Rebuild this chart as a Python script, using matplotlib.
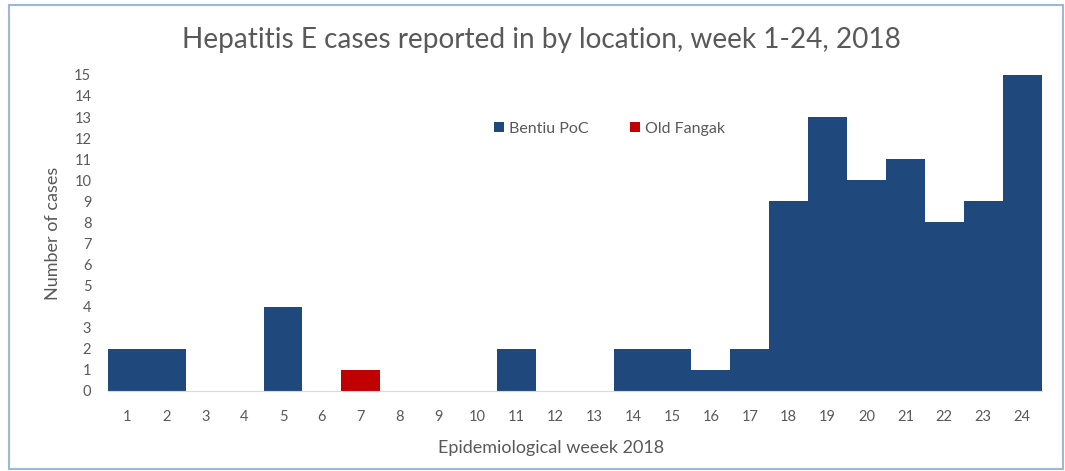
import matplotlib.pyplot as plt
from matplotlib.patches import Rectangle

plt.rcParams['font.family'] = ['Lato', 'DejaVu Sans']

# data
weeks = [str(w) for w in range(1, 25)]
bentiu = [2, 2, 0, 0, 4, 0, 0, 0, 0, 0, 2, 0, 0, 2, 2, 1, 2, 9, 13, 10, 11, 8, 9, 15]
old_fangak = [0, 0, 0, 0, 0, 0, 1, 0, 0, 0, 0, 0, 0, 0, 0, 0, 0, 0, 0, 0, 0, 0, 0, 0]

grey = '#595959'

fig = plt.figure(figsize=(10.65, 4.71), dpi=100)
ax = fig.add_axes([0.1014, 0.170, 0.8766, 0.671])

x = range(len(weeks))
ax.bar(x, bentiu, width=1.0, color='#1f497d', label='Bentiu PoC')
ax.bar(x, old_fangak, width=1.0, bottom=bentiu, color='#c00000', label='Old Fangak')

ax.set_xlim(-0.5, len(weeks) - 0.5)
ax.set_ylim(0, 15)
ax.set_yticks(range(0, 16))
ax.set_xticks(list(x))
ax.set_xticklabels(weeks)
ax.tick_params(length=0, colors=grey, labelsize=10.5)
ax.tick_params(axis='x', pad=14)
ax.tick_params(axis='y', pad=12)

for s in ['top', 'right', 'left']:
    ax.spines[s].set_visible(False)
ax.spines['bottom'].set_color('#d9d9d9')

ax.set_xlabel('Epidemiological weeek 2018', color=grey, fontsize=13)
ax.xaxis.set_label_coords(0.475, -0.155)
ax.set_ylabel('Number of cases', color=grey, fontsize=13)
ax.yaxis.set_label_coords(-0.05, 0.5)

fig.text(0.508, 0.915, 'Hepatitis E cases reported in by location, week 1-24, 2018',
         ha='center', va='center', color=grey, fontsize=20.2)

ax.legend(loc='center', bbox_to_anchor=(0.537, 0.83), ncol=2, frameon=False,
          fontsize=11.5, labelcolor=grey, handlelength=0.65, handleheight=0.65,
          handletextpad=0.3, columnspacing=2.6)

# chart border
fig.patches.append(Rectangle((0.008, 0.005), 0.99, 0.985, transform=fig.transFigure,
                             fill=False, edgecolor='#9bb7d9', linewidth=1.5))

fig.savefig('out.png', dpi=100)
